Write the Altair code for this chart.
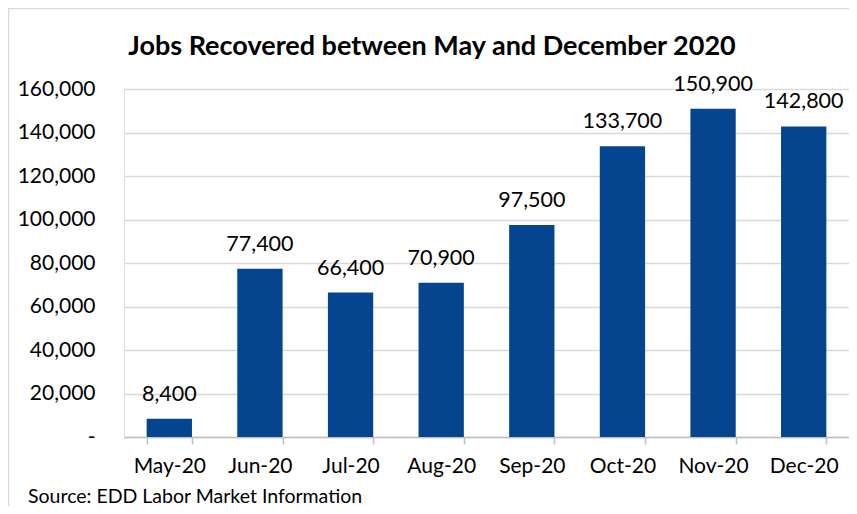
import altair as alt
import pandas as pd

months = ["May-20", "Jun-20", "Jul-20", "Aug-20", "Sep-20", "Oct-20", "Nov-20", "Dec-20"]
jobs = [8400, 77400, 66400, 70900, 97500, 133700, 150900, 142800]
y_ticks = [0, 20000, 40000, 60000, 80000, 100000, 120000, 140000, 160000]

title_text = "Jobs Recovered between May and December 2020"
source_text = "Source: EDD Labor Market Information"

df = pd.DataFrame({"month": months, "jobs": jobs})

FONT = "Lato"
W, H = 725, 348
BAR = "#05458F"

x_enc = alt.X(
    "month:N",
    sort=months,
    title=None,
    scale=alt.Scale(paddingInner=0.5, paddingOuter=0.25),
    axis=alt.Axis(
        labelAngle=0,
        labelFont=FONT,
        labelFontSize=21,
        labelColor="#000000",
        labelPadding=11,
        domainColor="#bfbfbf",
        domainWidth=1.5,
        tickColor="#bfbfbf",
        tickWidth=1.5,
        tickSize=7,
        tickBand="extent",
        grid=False,
    ),
)
y_enc = alt.Y(
    "jobs:Q",
    title=None,
    scale=alt.Scale(domain=[0, 160000], nice=False),
    axis=alt.Axis(
        values=y_ticks,
        labelExpr="datum.value == 0 ? '-\u00a0\u00a0\u00a0\u00a0\u00a0\u00a0\u00a0' : format(datum.value, ',')",
        labelFont=FONT,
        labelFontSize=21,
        labelColor="#000000",
        labelPadding=29,
        domain=False,
        ticks=False,
        gridColor="#d9d9d9",
        gridWidth=1.5,
    ),
)

bars = alt.Chart(df).mark_bar(color=BAR).encode(x=x_enc, y=y_enc)

labels = alt.Chart(df).mark_text(
    font=FONT, fontSize=21.5, color="#000000", baseline="alphabetic", dy=-18
).encode(
    x=alt.X("month:N", sort=months),
    y=alt.Y("jobs:Q"),
    text=alt.Text("jobs:Q", format=","),
)

title_df = pd.DataFrame({"t": [title_text]})
title = alt.Chart(title_df).mark_text(
    font=FONT, fontSize=27, fontWeight="bold", color="#000000",
    align="center", baseline="alphabetic"
).encode(x=alt.value(308), y=alt.value(-34), text="t:N")

src_df = pd.DataFrame({"t": [source_text]})
source = alt.Chart(src_df).mark_text(
    font=FONT, fontSize=19.5, color="#000000", align="left", baseline="alphabetic"
).encode(x=alt.value(-96), y=alt.value(H + 66), text="t:N")

frame_df = pd.DataFrame({"k": [1]})
frame_left = alt.Chart(frame_df).mark_rule(color="#d9d9d9", strokeWidth=1.5).encode(
    x=alt.value(-115.5), y=alt.value(-81), y2=alt.value(H + 69)
)
frame_top = alt.Chart(frame_df).mark_rule(color="#d9d9d9", strokeWidth=1.5).encode(
    x=alt.value(-116), x2=alt.value(W), y=alt.value(-80.5)
)

chart = (
    alt.layer(bars, labels, title, source, frame_left, frame_top)
    .properties(
        width=W,
        height=H,
        autosize=alt.AutoSizeParams(type="none"),
        padding={"left": 116, "top": 81, "right": 0, "bottom": 69},
    )
    .configure_view(stroke=None)
    .configure(background="#ffffff")
)

chart.save("out.html", embed_options={"renderer": "svg", "actions": False})
